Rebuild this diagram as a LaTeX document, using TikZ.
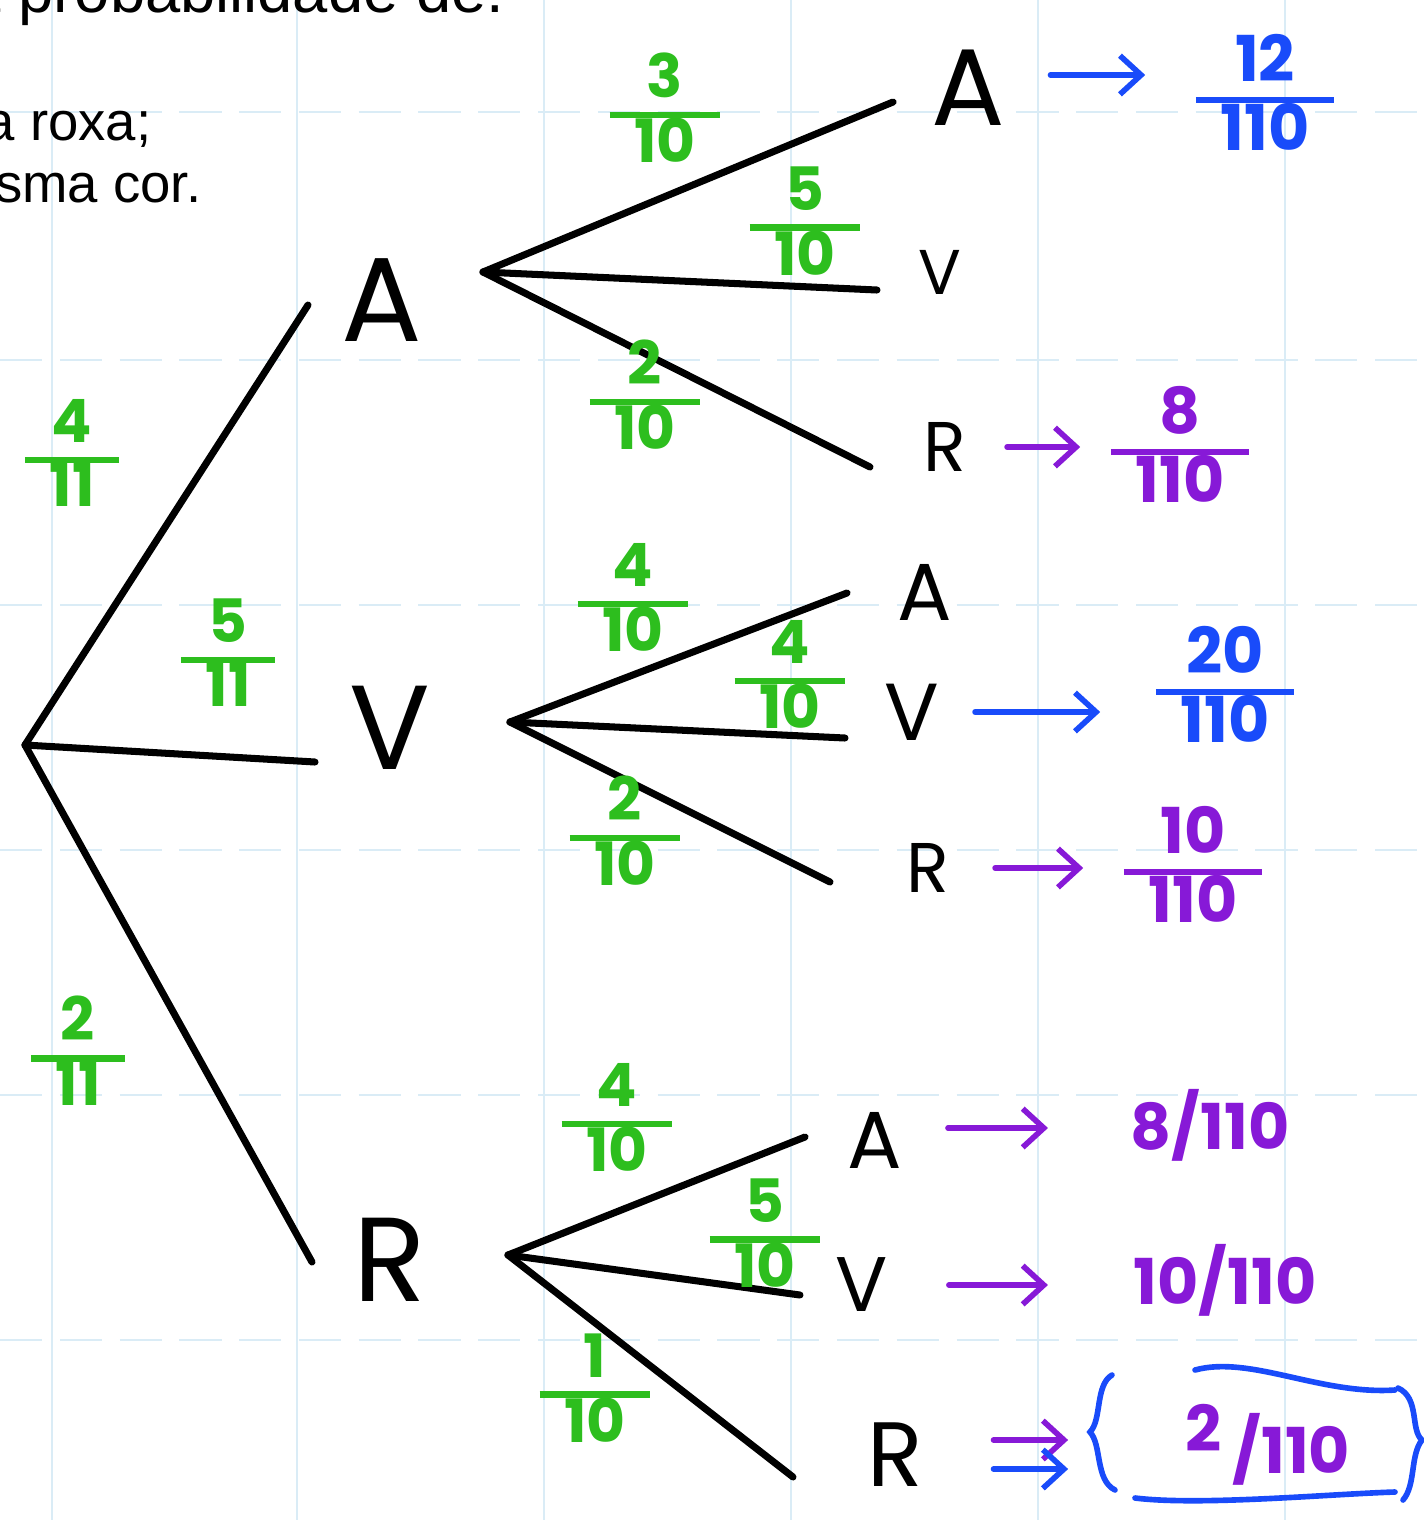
\documentclass[tikz,border=0pt]{standalone}
\usepackage{fontspec}
\setmainfont{Liberation Sans}
\newfontfamily\hand{Poppins}
\usetikzlibrary{arrows.meta, positioning}
\definecolor{pgreen}{RGB}{45,190,30}
\definecolor{pblue}{RGB}{25,75,250}
\definecolor{ppurple}{RGB}{135,25,215}
\definecolor{gridline}{RGB}{218,236,246}
\newcommand{\frc}[2]{{\setlength{\arrayrulewidth}{1.8pt}\renewcommand{\arraystretch}{0.8}%
\begin{tabular}{@{\hspace{7pt}}c@{\hspace{7pt}}}#1\\\hline #2\end{tabular}}}
\tikzstyle{branch} = [line width=2pt, line cap=round]
\tikzstyle{outcome} = [inner sep=0pt, font=\hand]
\tikzstyle{prob} = [inner sep=0pt, text=pgreen, font=\hand\bfseries\fontsize{17}{17}\selectfont]
\tikzstyle{result} = [inner sep=0pt, font=\hand\bfseries\fontsize{18}{18}\selectfont]
\tikzstyle{arrow} = [line width=1.6pt, line cap=round, -{Straight Barb[length=6pt,width=11pt,line width=1.6pt]}]
\begin{document}
\begin{tikzpicture}[x=0.01cm, y=-0.01cm]
\useasboundingbox (0,0) rectangle (1424,1520);
\clip (0,0) rectangle (1424,1520);

% squared paper
\foreach \gy in {112,360,605,850,1095,1340}
  \draw[gridline, line width=0.8pt, dash pattern=on 12pt off 5pt] (0,\gy) -- (1424,\gy);
\foreach \gx in {52,297,544,791,1038,1285}
  \draw[gridline, line width=0.8pt] (\gx,0) -- (\gx,1520);

% text of the exercise, cut at the left
\node[anchor=base east, inner sep=0pt, font=\fontsize{18}{18}\selectfont] (line1) at (505,12) {a probabilidade de.};
\node[anchor=base east, inner sep=0pt, font=\fontsize{15.5}{15.5}\selectfont] (line2) at (152,140) {a roxa;};
\node[anchor=base east, inner sep=0pt, font=\fontsize{15.5}{15.5}\selectfont] (line3) at (202,202) {sma cor.};

% first draw
\coordinate (o) at (25,745);
\coordinate (a) at (308,305);
\coordinate (v) at (315,762);
\coordinate (r) at (312,1262);
\draw[branch] (o) -- (a);
\draw[branch] (o) -- (v);
\draw[branch] (o) -- (r);
\node[outcome, font=\hand\fontsize{34}{34}\selectfont] (A) at (382,300) {A};
\node[outcome, font=\hand\fontsize{34}{34}\selectfont] (V) at (390,728) {V};
\node[outcome, font=\hand\fontsize{34}{34}\selectfont] (R) at (390,1260) {R};
\node[prob] (pA) at (72,460) {\frc{4}{11}};
\node[prob] (pV) at (228,660) {\frc{5}{11}};
\node[prob] (pR) at (78,1058) {\frc{2}{11}};

% second draw after A
\coordinate (a0) at (483,272);
\coordinate (aa) at (893,102);
\coordinate (av) at (877,290);
\coordinate (ar) at (870,467);
\draw[branch] (a0) -- (aa);
\draw[branch] (a0) -- (av);
\draw[branch] (a0) -- (ar);
\node[outcome, font=\hand\fontsize{31}{31}\selectfont] (AA) at (968,88) {A};
\node[outcome, font=\hand\fontsize{18}{18}\selectfont] (AV) at (940,272) {V};
\node[outcome, font=\hand\fontsize{20}{20}\selectfont] (AR) at (945,447) {R};
\node[prob] (pAA) at (665,115) {\frc{3}{10}};
\node[prob] (pAV) at (805,228) {\frc{5}{10}};
\node[prob] (pAR) at (645,402) {\frc{2}{10}};

% second draw after V
\coordinate (v0) at (510,722);
\coordinate (va) at (847,593);
\coordinate (vv) at (845,738);
\coordinate (vr) at (830,882);
\draw[branch] (v0) -- (va);
\draw[branch] (v0) -- (vv);
\draw[branch] (v0) -- (vr);
\node[outcome, font=\hand\fontsize{23}{23}\selectfont] (VA) at (925,592) {A};
\node[outcome, font=\hand\fontsize{23}{23}\selectfont] (VV) at (912,712) {V};
\node[outcome, font=\hand\fontsize{20}{20}\selectfont] (VR) at (928,868) {R};
\node[prob] (pVA) at (633,605) {\frc{4}{10}};
\node[prob] (pVV) at (790,682) {\frc{4}{10}};
\node[prob] (pVR) at (625,838) {\frc{2}{10}};

% second draw after R
\coordinate (r0) at (508,1255);
\coordinate (ra) at (805,1137);
\coordinate (rv) at (800,1295);
\coordinate (rr) at (793,1477);
\draw[branch] (r0) -- (ra);
\draw[branch] (r0) -- (rv);
\draw[branch] (r0) -- (rr);
\node[outcome, font=\hand\fontsize{23}{23}\selectfont] (RA) at (875,1140) {A};
\node[outcome, font=\hand\fontsize{22}{22}\selectfont] (RV) at (862,1285) {V};
\node[outcome, font=\hand\fontsize{26}{26}\selectfont] (RR) at (895,1455) {R};
\node[prob] (pRA) at (617,1125) {\frc{4}{10}};
\node[prob] (pRV) at (765,1240) {\frc{5}{10}};
\node[prob] (pRR) at (595,1395) {\frc{1}{10}};

% results
\node[result, text=pblue] (xAA) at (1265,100) {\frc{12}{110}};
\node[result, text=ppurple] (xAR) at (1180,452) {\frc{8}{110}};
\node[result, text=pblue] (xVV) at (1225,692) {\frc{20}{110}};
\node[result, text=ppurple] (xVR) at (1193,872) {\frc{10}{110}};
\node[result, text=ppurple] (xRA) at (1210,1125) {8/110};
\node[result, text=ppurple] (xRV) at (1225,1280) {10/110};
\node[result, text=ppurple] (xRR) at (1268,1445) {\raisebox{0.35em}{2}\,/110};

\draw[arrow, pblue, shorten <=0.45cm, shorten >=0.5cm] ([yshift=0.13cm]AA.east) -- ([yshift=0.13cm]AA.east -| xAA.west);
\draw[arrow, ppurple, shorten <=0.4cm, shorten >=0.3cm] (AR.east) -- (AR.east -| xAR.west);
\draw[arrow, pblue, shorten <=0.35cm, shorten >=0.55cm] (VV.east) -- (VV.east -| xVV.west);
\draw[arrow, ppurple, shorten <=0.45cm, shorten >=0.4cm] (VR.east) -- (VR.east -| xVR.west);
\draw[arrow, ppurple, shorten <=0.45cm, shorten >=0.82cm] ([yshift=0.12cm]RA.east) -- ([yshift=0.12cm]RA.east -| xRA.west);
\draw[arrow, ppurple, shorten <=0.6cm, shorten >=0.85cm] (RV.east) -- (RV.east -| xRV.west);
\draw[arrow, ppurple, shorten <=0.7cm, shorten >=1.17cm] ([yshift=0.15cm]RR.east) -- ([yshift=0.15cm]RR.east -| xRR.west);
\draw[arrow, pblue, shorten <=0.7cm, shorten >=1.17cm] ([yshift=-0.14cm]RR.east) -- ([yshift=-0.14cm]RR.east -| xRR.west);

% box round the last result
\draw[pblue, line width=1.6pt, line cap=round]
  (1112,1375) .. controls (1095,1385) and (1102,1420) .. (1090,1432)
  .. controls (1102,1445) and (1095,1480) .. (1115,1490);
\draw[pblue, line width=1.6pt, line cap=round]
  (1398,1388) .. controls (1420,1398) and (1410,1430) .. (1422,1440)
  .. controls (1410,1455) and (1416,1485) .. (1403,1500);
\draw[pblue, line width=1.6pt, line cap=round]
  (1195,1370) .. controls (1250,1355) and (1320,1395) .. (1395,1390);
\draw[pblue, line width=1.6pt, line cap=round]
  (1135,1498) .. controls (1200,1506) and (1330,1494) .. (1395,1492);
\end{tikzpicture}
\end{document}
